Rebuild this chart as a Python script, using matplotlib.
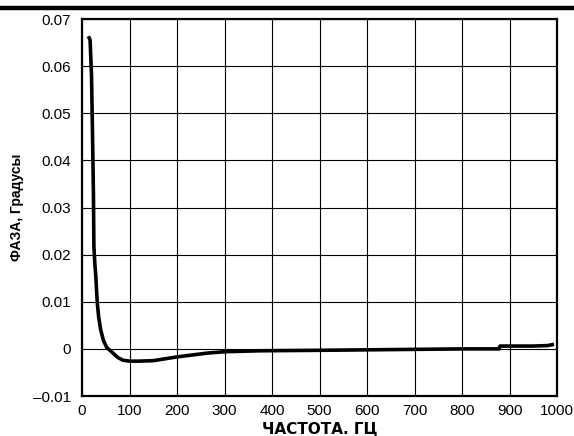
import matplotlib
matplotlib.use("Agg")
from matplotlib import pyplot as plt
from matplotlib.lines import Line2D

plt.rcParams['font.family'] = ['Liberation Sans', 'DejaVu Sans']

freq = [15, 17, 20, 22, 24, 25, 27, 29, 32, 35, 39, 45, 52, 62, 75, 86,
        100, 120, 150, 200, 263, 300, 375, 500, 600, 700, 800, 878,
        880, 950, 980, 990]
phase = [0.066, 0.0655, 0.058, 0.046, 0.033, 0.0218, 0.018, 0.0154, 0.0099,
         0.0068, 0.0042, 0.0018, 0.0003, -0.0006, -0.0018, -0.0024,
         -0.0026, -0.0026, -0.0025, -0.0017, -0.0009, -0.0006, -0.0004,
         -0.0003, -0.0002, -0.0001, 0.0, 0.0,
         0.0006, 0.0006, 0.0007, 0.0009]

x_ticks = [0, 100, 200, 300, 400, 500, 600, 700, 800, 900, 1000]
y_ticks = [-0.01, 0, 0.01, 0.02, 0.03, 0.04, 0.05, 0.06, 0.07]
y_labels = ['\u20130.01', '0', '0.01', '0.02', '0.03', '0.04', '0.05', '0.06', '0.07']

fig = plt.figure(figsize=(5.74, 4.36), dpi=100)
ax = fig.add_axes([0.1429, 0.0917, 0.8275, 0.8647])

ax.plot(freq, phase, color='black', linewidth=2.6, solid_joinstyle='round')

ax.set_xlim(0, 1000)
ax.set_ylim(-0.01, 0.07)
ax.set_xticks(x_ticks)
ax.set_xticklabels([str(t) for t in x_ticks])
ax.set_yticks(y_ticks)
ax.set_yticklabels(y_labels)
ax.tick_params(length=0, labelsize=11, pad=6)
ax.tick_params(axis='y', pad=8)
ax.grid(True, color='black', linewidth=0.8)
for s in ax.spines.values():
    s.set_linewidth(1.6)

ax.set_xlabel('ЧАСТОТА. ГЦ', fontsize=11, fontweight='bold', labelpad=2,
              family=['DejaVu Sans'])
ax.set_ylabel('ФАЗА, Градусы', fontsize=10, fontweight='bold', labelpad=6)

# thick rule across the top of the figure
fig.add_artist(Line2D([0, 1], [1 - 8.5 / 436, 1 - 8.5 / 436],
                      color='black', linewidth=3.2, transform=fig.transFigure))

fig.savefig('out.png', dpi=100)
